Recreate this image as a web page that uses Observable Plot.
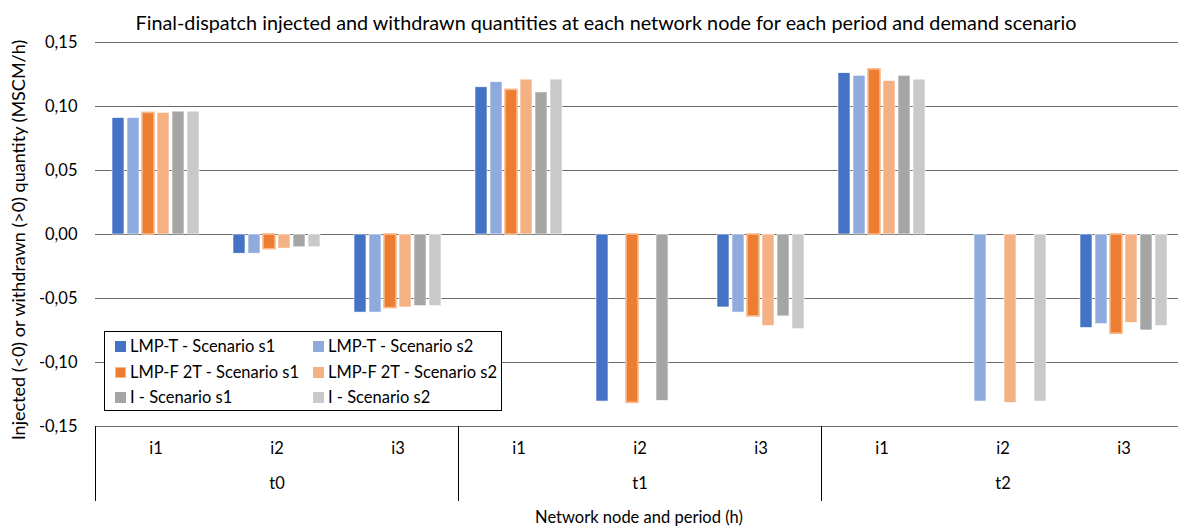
<!DOCTYPE html>
<html>
<head>
<meta charset="utf-8">
<script src="https://cdn.jsdelivr.net/npm/d3@7"></script>
<script src="https://cdn.jsdelivr.net/npm/@observablehq/plot@0.6"></script>
<style>
  body { margin: 0; background: #fff; font-family: Lato, "Open Sans", sans-serif; }
  #wrap { position: relative; width: 1178px; height: 527px; overflow: hidden; }
  #title { position: absolute; left: 0; width: 1212px; top: 10px; line-height: 24px; text-align: center; font-size: 19.8px; white-space: nowrap; color: #000; }
  #ylabel { position: absolute; left: -482px; width: 1000px; top: 228px; line-height: 24px; text-align: center; transform: rotate(-90deg); font-size: 18px; white-space: nowrap; color: #000; }
  #xlabel { position: absolute; left: 0; width: 1278px; top: 505px; line-height: 24px; text-align: center; font-size: 16.5px; white-space: nowrap; color: #000; }
  #legend { position: absolute; left: 104px; top: 331px; width: 396px; height: 78px; border: 1px solid #000; background: #fff; box-sizing: content-box; }
  .item { position: absolute; height: 26px; display: flex; align-items: center; font-size: 16.5px; color: #000; white-space: nowrap; }
  .sw { width: 11px; height: 11px; margin-right: 4px; box-sizing: border-box; flex: none; }
</style>
</head>
<body>
<div id="wrap">
  <div id="chart"></div>
  <div id="title"></div>
  <div id="ylabel"></div>
  <div id="xlabel"></div>
  <div id="legend"></div>
</div>
<script>
const title = "Final-dispatch injected and withdrawn quantities at each network node for each period and demand scenario";
const yTitle = "Injected (<0) or withdrawn (>0) quantity (MSCM/h)";
const xTitle = "Network node and period (h)";

const periods = ["t0", "t1", "t2"];
const nodes = ["i1", "i2", "i3"];
const series = ["LMP-T - Scenario s1", "LMP-T - Scenario s2", "LMP-F 2T - Scenario s1", "LMP-F 2T - Scenario s2", "I - Scenario s1", "I - Scenario s2"];
const colors = ["#4472C4", "#8FAADC", "#ED7D31", "#F4B183", "#A5A5A5", "#C9C9C9"];
const yTicks = [-0.15, -0.10, -0.05, 0, 0.05, 0.10, 0.15];

// values in order t0:i1,i2,i3  t1:i1,i2,i3  t2:i1,i2,i3
const lmpT_s1 = [0.091, -0.015, -0.061, 0.115, -0.1305, -0.057, 0.126, 0, -0.073];
const lmpT_s2 = [0.091, -0.015, -0.061, 0.119, 0, -0.061, 0.124, -0.1305, -0.070];
const lmpF_s1 = [0.095, -0.0115, -0.0575, 0.113, -0.1315, -0.064, 0.129, 0, -0.0775];
const lmpF_s2 = [0.095, -0.011, -0.057, 0.121, 0, -0.0715, 0.120, -0.1315, -0.069];
const i_s1 = [0.096, -0.010, -0.056, 0.111, -0.130, -0.064, 0.124, 0, -0.075];
const i_s2 = [0.096, -0.010, -0.056, 0.121, 0, -0.074, 0.121, -0.1305, -0.0715];
const seriesValues = [lmpT_s1, lmpT_s2, lmpF_s1, lmpF_s2, i_s1, i_s2];

const keys = periods.flatMap(p => nodes.map(n => p + "|" + n));
const data = [];
series.forEach((s, si) => {
  keys.forEach((k, ki) => data.push({key: k, series: s, value: seriesValues[si][ki]}));
});
const fmt = d => d.toFixed(2).replace(".", ",").replace(/^-0,00$/, "0,00");

const marks = [
  Plot.gridY(yTicks, {stroke: "#6a6a6a", strokeOpacity: 1}),
  Plot.axisY(yTicks, {tickSize: 0, tickPadding: 18, tickFormat: fmt, label: null, fontSize: 16.5, fill: "#000"}),
  Plot.barY(data, {fx: "key", x: "series", y: "value", fill: "series", stroke: "#fff", strokeWidth: 0.6}),
  Plot.barY(data.filter(d => d.series === series[2]), {fx: "key", x: "series", y: "value", fill: colors[2], stroke: "#F8B98C", strokeWidth: 1.6}),
  Plot.text(keys, {fx: k => k, text: k => k.split("|")[1], frameAnchor: "bottom", dy: 27, fontSize: 16.5, fill: "#000"}),
  Plot.text(periods, {fx: p => p + "|" + nodes[1], text: p => p, frameAnchor: "bottom", dy: 62, fontSize: 16.5, fill: "#000"})
];
periods.forEach(p => {
  marks.push(Plot.frame({fx: () => p + "|" + nodes[0], anchor: "left", insetTop: 384, insetBottom: -74, stroke: "#000", strokeWidth: 1}));
});

const chart = Plot.plot({
  width: 1178,
  height: 527,
  marginTop: 42,
  marginBottom: 101,
  marginLeft: 94,
  marginRight: -6,
  style: {fontFamily: "Lato, 'Open Sans', sans-serif", fontSize: "16.5px", color: "#000", background: "transparent", overflow: "visible"},
  fx: {domain: keys, paddingInner: 0, paddingOuter: 0, axis: null, label: null},
  x: {domain: series, paddingInner: 0.2, paddingOuter: 0.89, axis: null, label: null},
  y: {domain: [-0.15, 0.15], axis: null, label: null},
  color: {domain: series, range: colors},
  marks
});
document.getElementById("chart").appendChild(chart);

document.getElementById("title").textContent = title;
document.getElementById("ylabel").textContent = yTitle;
document.getElementById("xlabel").textContent = xTitle;

const legend = document.getElementById("legend");
const colLeft = [10, 208];
const rowTop = [1, 27, 52];
series.forEach((s, i) => {
  const item = document.createElement("div");
  item.className = "item";
  item.style.left = colLeft[i % 2] + "px";
  item.style.top = rowTop[Math.floor(i / 2)] + "px";
  const sw = document.createElement("div");
  sw.className = "sw";
  sw.style.background = colors[i];
  if (i === 2) sw.style.border = "1.5px solid #F8B98C";
  const tx = document.createElement("span");
  tx.textContent = s;
  item.appendChild(sw);
  item.appendChild(tx);
  legend.appendChild(item);
});
</script>
</body>
</html>
